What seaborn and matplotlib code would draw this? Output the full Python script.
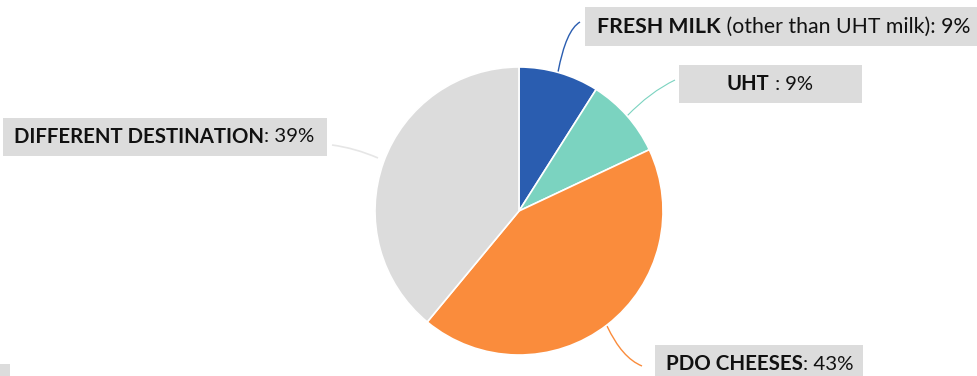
import matplotlib
matplotlib.use("Agg")
import matplotlib.pyplot as plt
import seaborn as sns
from matplotlib.patches import Rectangle, PathPatch
from matplotlib.path import Path

sns.set_theme(style="white")
plt.rcParams['font.family'] = ['Lato', 'DejaVu Sans']

# ---- data ----
categories = ["FRESH MILK", "UHT", "PDO CHEESES", "DIFFERENT DESTINATION"]
bold_labels = ["FRESH MILK", "UHT", "PDO CHEESES", "DIFFERENT DESTINATION"]
rest_labels = [" (other than UHT milk): 9%", " : 9%", ": 43%", ": 39%"]
values = [9, 9, 43, 39]
colors = ["#2A5DB0", "#7BD3C0", "#FA8C3C", "#DCDCDC"]

W, H = 978, 376
fig = plt.figure(figsize=(W / 100, H / 100), dpi=100)
ax = fig.add_axes([0, 0, 1, 1])
ax.set_xlim(0, W)
ax.set_ylim(H, 0)
ax.axis("off")

# pie in a separate axes positioned over the pixel area (keeps true circle)
cx, cy, r = 519, 211, 144
pax = fig.add_axes([(cx - r) / W, 1 - (cy + r) / H, 2 * r / W, 2 * r / H])
pax.pie(values, colors=colors, startangle=90, counterclock=False,
        wedgeprops=dict(edgecolor="white", linewidth=1.2))
pax.set_xlim(-1, 1)
pax.set_ylim(-1, 1)
pax.axis("off")

# label boxes (pixel layout)
boxes = [(585, 7, 400, 39), (679, 65, 183, 38), (655, 345, 208, 45), (3, 118, 324, 38)]
text_x = [597, 727, 666, 14]
text_y = [27, 84, 364, 137]
target_w = [373, 86, 187, 301]
for (bx, by, bw, bh) in boxes:
    ax.add_patch(Rectangle((bx, by), bw, bh, facecolor="#DCDCDC", edgecolor="none", zorder=1))
ax.add_patch(Rectangle((0, 364), 10, 12, facecolor="#DCDCDC", edgecolor="none", zorder=1))

fig.canvas.draw()
renderer = fig.canvas.get_renderer()
fs = 16
for i in range(4):
    t1 = ax.text(text_x[i], text_y[i], bold_labels[i], fontsize=fs, fontweight="bold",
                 color="#111111", va="center", ha="left", zorder=3)
    e1 = t1.get_window_extent(renderer)
    t2 = ax.text(0, text_y[i], rest_labels[i], fontsize=fs, color="#111111",
                 va="center", ha="left", zorder=3)
    e2 = t2.get_window_extent(renderer)
    total = e1.width + e2.width
    s = fs * target_w[i] / total
    t1.set_fontsize(s)
    t2.set_fontsize(s)
    fig.canvas.draw()
    e1 = t1.get_window_extent(renderer)
    t2.set_x(text_x[i] + e1.width)

# leader lines
def curve(pts, color, lw=1.0):
    codes = [Path.MOVETO] + [Path.CURVE3] * (len(pts) - 1)
    ax.add_patch(PathPatch(Path(pts, codes), facecolor="none", edgecolor=color, lw=lw, zorder=2))

curve([(558, 72), (566, 30), (580, 22)], "#2A5DB0")
curve([(627, 116), (650, 92), (675, 80)], "#7BD3C0", 0.8)
curve([(607, 326), (622, 358), (642, 366)], "#FA8C3C")
curve([(378, 158), (355, 148), (332, 145)], "#E6E6E6", 1.2)

fig.savefig("out.png", dpi=100)
